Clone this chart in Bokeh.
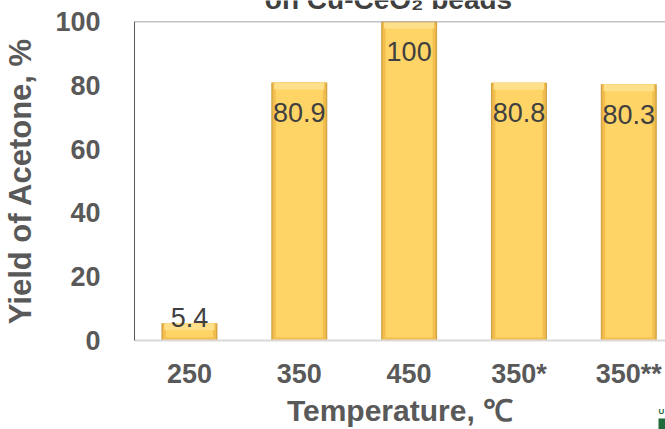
from bokeh.plotting import figure
from bokeh.models import Range1d, FixedTicker, Span, ColumnDataSource
from bokeh.core.properties import value
from bokeh.embed import file_html
from bokeh.resources import INLINE

# ---- data ----
categories = ["250", "350", "450", "350*", "350**"]
yields = [5.4, 80.9, 100, 80.8, 80.3]
y_ticks = [0, 20, 40, 60, 80, 100]
title_text = "on Cu-CeO\u2082 beads"

xs = list(range(len(categories)))
labels = [("%g" % v) for v in yields]
offsets = [30 if v > 20 else -6 for v in yields]

src = ColumnDataSource(dict(x=xs, y=yields, label=labels, off=offsets))

W, H = 665, 429
TOP_H = 21
PX_X = 110.25     # pixels per category
PX_Y = 3.19       # pixels per percent

# ---- main chart ----
p = figure(width=W, height=H, output_backend="svg",
           toolbar_location=None, title=None,
           x_range=Range1d(-0.5, 4.334), y_range=Range1d(0, 100),
           min_border_left=132, min_border_right=0, min_border_top=TOP_H,
           min_border_bottom=89)
p.styles = {"position": "absolute", "left": "0px", "top": "0px"}
p.outline_line_color = None
p.background_fill_color = "white"
p.border_fill_color = "white"
p.xgrid.grid_line_color = None
p.ygrid.grid_line_color = None

# bars (bevel look)
bw = 0.51
edge = 3 / PX_X
src.data["top_in"] = [max(v - 3 / PX_Y, 0) for v in yields]
src.data["hl_bot"] = [max(v - 7 / PX_Y, 0) for v in yields]
p.vbar(x="x", top="y", bottom=0, width=bw, source=src,
       fill_color="#D5A445", line_color=None)
p.vbar(x="x", top="y", bottom=0, width=bw - edge, source=src,
       fill_color="#F2BE4E", line_color=None)
p.vbar(x="x", top="top_in", bottom=3 / PX_Y, width=bw - 3 * edge, source=src,
       fill_color="#FFD466", line_color=None)
p.vbar(x="x", top="y", bottom="hl_bot", width=bw - 2 * edge, source=src,
       fill_color="#FFE08A", line_color=None)

# data labels
p.text(x="x", y="y", text="label", source=src, y_offset="off",
       text_align="center", text_baseline="middle",
       text_font=value("Liberation Sans"), text_font_size="27px",
       text_color="#404040")

# top border line
p.add_layout(Span(location=100, dimension="width", line_color="#868686",
                  line_width=1.5))

# axes
xa = p.xaxis[0]
xa.ticker = FixedTicker(ticks=xs)
xa.major_label_overrides = {i: c for i, c in enumerate(categories)}
xa.axis_line_color = "#D9D9D9"
xa.axis_line_width = 2
xa.major_tick_line_color = None
xa.minor_tick_line_color = None
xa.major_label_text_font = "Liberation Sans"
xa.major_label_text_font_style = "bold"
xa.major_label_text_font_size = "27px"
xa.major_label_text_color = "#595959"
xa.major_label_standoff = 12
xa.axis_label = "Temperature, \u2103"
xa.axis_label_text_font = "Liberation Sans"
xa.axis_label_text_font_style = "bold"
xa.axis_label_text_font_size = "30px"
xa.axis_label_text_color = "#595959"
xa.axis_label_standoff = 2

ya = p.yaxis[0]
ya.ticker = FixedTicker(ticks=y_ticks)
ya.axis_line_color = "#595959"
ya.axis_line_width = 1
ya.major_tick_line_color = None
ya.minor_tick_line_color = None
ya.major_label_text_font = "Liberation Sans"
ya.major_label_text_font_style = "bold"
ya.major_label_text_font_size = "27px"
ya.major_label_text_color = "#595959"
ya.major_label_standoff = 28
ya.axis_label = "Yield of Acetone, %"
ya.axis_label_text_font = "Liberation Sans"
ya.axis_label_text_font_style = "bold"
ya.axis_label_text_font_size = "31px"
ya.axis_label_text_color = "#595959"
ya.axis_label_standoff = 14

# ---- transparent strip overlaid at the top, holding the cut-off title ----
t = figure(width=W, height=TOP_H, output_backend="svg", toolbar_location=None,
           title=None, x_axis_type=None, y_axis_type=None,
           x_range=Range1d(0, W), y_range=Range1d(0, TOP_H),
           min_border=0)
t.styles = {"position": "absolute", "left": "0px", "top": "0px"}
t.outline_line_color = None
t.background_fill_alpha = 0
t.border_fill_alpha = 0
t.xgrid.grid_line_color = None
t.ygrid.grid_line_color = None
t.text(x=[388], y=[TOP_H + 1], text=[title_text], text_align="center",
       text_baseline="middle", text_font=value("Liberation Sans"),
       text_font_style="bold", text_font_size="28px", text_color="#404040")

# ---- tiny cut-off logo fragment at bottom right ----
LW, LH = 9, 24
g = figure(width=LW, height=LH, output_backend="svg", toolbar_location=None,
           title=None, x_axis_type=None, y_axis_type=None,
           x_range=Range1d(0, LW), y_range=Range1d(0, LH), min_border=0)
g.styles = {"position": "absolute", "left": "%dpx" % (W - LW),
            "top": "%dpx" % (H - LH)}
g.outline_line_color = None
g.background_fill_alpha = 0
g.border_fill_alpha = 0
g.xgrid.grid_line_color = None
g.ygrid.grid_line_color = None
g.quad(left=[2], right=[LW], bottom=[0], top=[11], fill_color="#1F6B3A",
       line_color=None)
g.text(x=[2], y=[18], text=["U"], text_align="left", text_baseline="middle",
       text_font=value("Liberation Sans"), text_font_style="bold",
       text_font_size="8px", text_color="#1F6B3A")

open("out.html", "w").write(file_html([p, t, g], INLINE))
